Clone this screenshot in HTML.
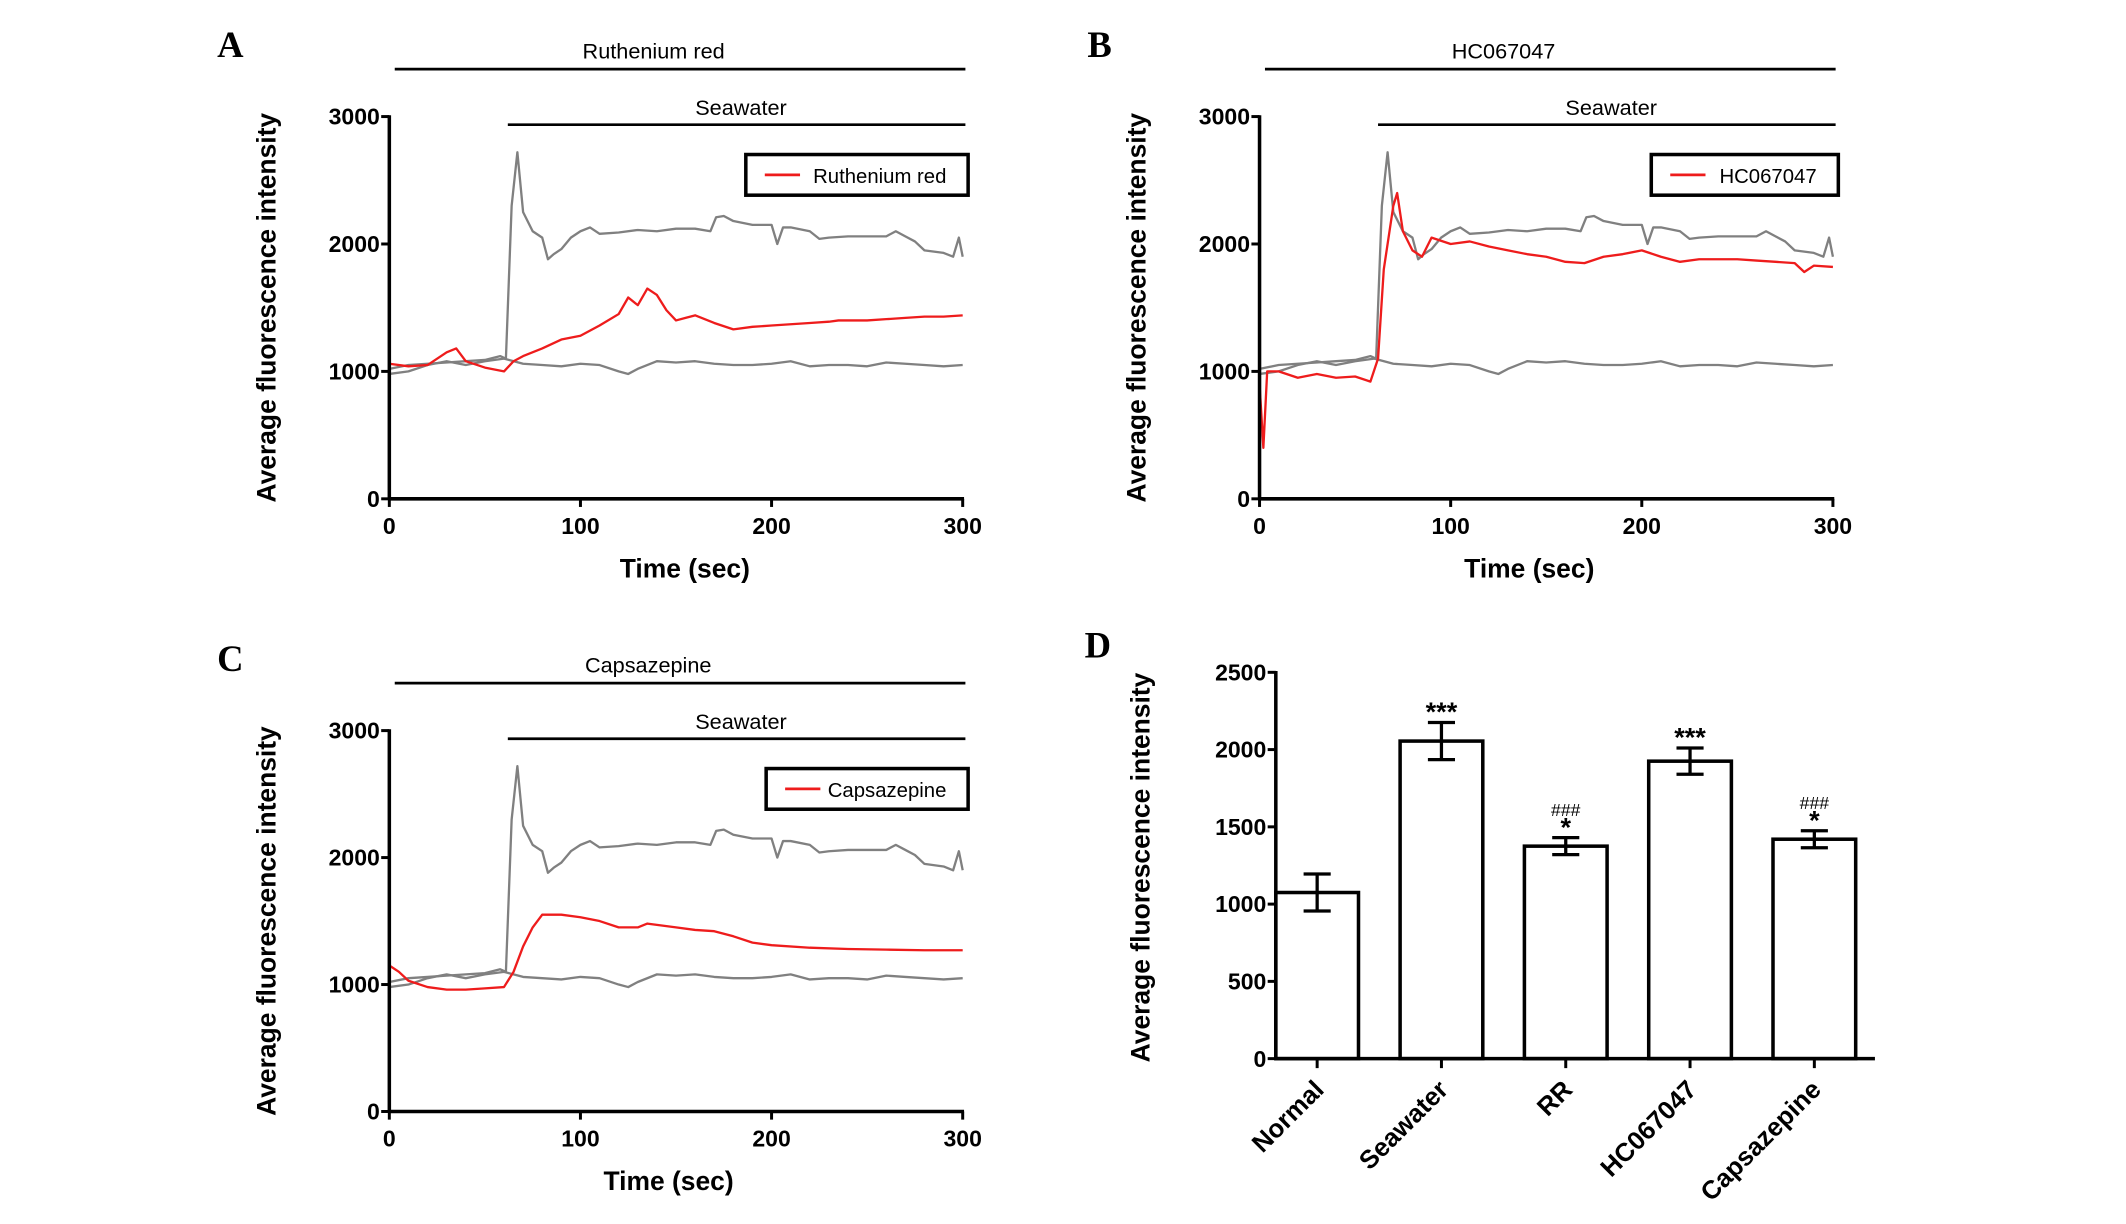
<!DOCTYPE html>
<html><head><meta charset="utf-8"><style>
html,body{margin:0;padding:0;background:#fff;width:2126px;height:1224px;overflow:hidden}
svg{display:block}
text{font-family:"Liberation Sans",Arial,sans-serif}
.tick{font-size:17px;font-weight:bold}
.btick{font-size:19px;font-weight:bold}
.ttl{font-size:19.5px;font-weight:bold}
.lab{font-size:16px}
.let{font-family:"Liberation Serif",serif;font-size:27px;font-weight:bold}
</style></head><body>
<svg id="fig" width="2126" height="1224" viewBox="0 0 1568 903"></svg>
<script>
// ---- data ----
const swT=[0,10,20,30,40,50,58,61,64,67,70,75,80,83,86,90,95,100,105,110,120,130,140,150,160,168,171,175,180,190,200,203,206,210,220,225,230,240,250,260,265,270,275,280,290,295,298,300];
const swV=[1020,1050,1060,1070,1080,1090,1120,1100,2300,2720,2250,2100,2050,1880,1920,1960,2050,2100,2130,2080,2090,2110,2100,2120,2120,2100,2210,2220,2180,2150,2150,2000,2130,2130,2100,2040,2050,2060,2060,2060,2100,2060,2020,1950,1930,1900,2050,1900];
const nT=[0,10,20,30,40,50,60,70,80,90,100,110,120,125,130,140,150,160,170,180,190,200,210,220,230,240,250,260,270,280,290,300];
const nV=[980,1000,1050,1080,1050,1080,1100,1060,1050,1040,1060,1050,1000,980,1020,1080,1070,1080,1060,1050,1050,1060,1080,1040,1050,1050,1040,1070,1060,1050,1040,1050];
const rrT=[0,10,20,30,35,40,50,60,65,70,80,90,100,110,120,125,130,135,140,145,150,155,160,170,180,190,200,210,220,230,235,240,250,260,270,280,290,300];
const rrV=[1060,1040,1050,1150,1180,1080,1030,1000,1080,1120,1180,1250,1280,1360,1450,1580,1520,1650,1600,1480,1400,1420,1440,1380,1330,1350,1360,1370,1380,1390,1400,1400,1400,1410,1420,1430,1430,1440];
const hcT=[0,2,4,10,20,30,40,50,58,62,65,70,72,75,80,85,90,100,110,120,130,140,150,160,170,180,190,200,210,220,230,240,250,260,270,280,285,290,300];
const hcV=[900,400,1000,1000,950,980,950,960,920,1100,1800,2300,2400,2100,1950,1900,2050,2000,2020,1980,1950,1920,1900,1860,1850,1900,1920,1950,1900,1860,1880,1880,1880,1870,1860,1850,1780,1830,1820];
const czT=[0,5,10,20,30,40,50,60,65,70,75,80,90,100,110,120,130,135,140,150,160,170,180,190,200,220,240,260,280,300];
const czV=[1150,1100,1030,980,960,960,970,980,1100,1300,1450,1550,1550,1530,1500,1450,1450,1480,1470,1450,1430,1420,1380,1330,1310,1290,1280,1275,1270,1270];
const xTicks=[0,100,200,300];
const yTicks=[0,1000,2000,3000];
const barCats=["Normal","Seawater","RR","HC067047","Capsazepine"];
const barVals=[1075,2055,1375,1925,1420];
const barErr=[120,120,55,85,55];
const barSig=["","***","*","***","*"];
const barHash=["","","###","","###"];
const barTicks=[0,500,1000,1500,2000,2500];

const svg=document.getElementById('fig');
const NS='http://www.w3.org/2000/svg';
function mk(tag,attrs,parent){const e=document.createElementNS(NS,tag);for(const k in attrs)e.setAttribute(k,attrs[k]);(parent||svg).appendChild(e);return e;}
function txt(s,attrs,parent){const e=mk('text',attrs,parent);e.textContent=s;return e;}

function panel(o){
  const g=mk('g',{});
  
  
  const sx=t=>o.x0+(o.x1-o.x0)*t/300;
  const sy=v=>o.y0-(o.y0-o.y3)*v/3000;
  const l=txt(o.letter,{x:o.x0-127,y:o.y3-44,'class':'let'},g);
  
  let b=mk('line',{x1:o.x0+4,x2:o.x1+2,y1:o.y3-35,y2:o.y3-35,stroke:'#000','stroke-width':2},g);
  
  let bt=txt(o.drug,{x:o.tx,y:o.y3-43,'text-anchor':'middle','class':'lab'},g);
  
  let s=mk('line',{x1:sx(62),x2:o.x1+2,y1:o.y3+6,y2:o.y3+6,stroke:'#000','stroke-width':2},g);
  
  let st=txt('Seawater',{x:sx(184),y:o.y3-1,'text-anchor':'middle','class':'lab'},g);
  
  function line(T,V,col,name){const p=mk('polyline',{points:T.map((t,i)=>sx(t)+','+sy(V[i])).join(' '),fill:'none',stroke:col,'stroke-width':1.7,'stroke-linejoin':'round'},g);
    }
  line(nT,nV,'#808080','normal-series');
  line(swT,swV,'#808080','seawater-series');
  line(o.T,o.V,'#ee1c1c',o.sname);
  mk('line',{x1:o.x0,x2:o.x0,y1:o.y3-1,y2:o.y0+1,stroke:'#000','stroke-width':2.6},g);
  mk('line',{x1:o.x0-1,x2:o.x1+1,y1:o.y0,y2:o.y0,stroke:'#000','stroke-width':2.6},g);
  xTicks.forEach(t=>{mk('line',{x1:sx(t),x2:sx(t),y1:o.y0,y2:o.y0+6,stroke:'#000','stroke-width':2.2},g);
    const e=txt(t,{x:sx(t),y:o.y0+26,'text-anchor':'middle','class':'tick'},g);});
  yTicks.forEach(v=>{mk('line',{x1:o.x0-6,x2:o.x0,y1:sy(v),y2:sy(v),stroke:'#000','stroke-width':2.2},g);
    const e=txt(v,{x:o.x0-7,y:sy(v)+6,'text-anchor':'end','class':'tick'},g);});
  const xt=txt('Time (sec)',{x:o.xtx,y:o.y0+58,'text-anchor':'middle','class':'ttl'},g);
  
  const cy=(o.y0+o.y3)/2;
  const yt=txt('Average fluorescence intensity',{x:o.x0-84,y:cy,'text-anchor':'middle','class':'ttl',transform:`rotate(-90 ${o.x0-84} ${cy})`},g);
  
  const lg=mk('g',{},g);
  mk('rect',{x:o.lx,y:o.y3+28,width:o.x1+4-o.lx,height:30,fill:'#fff',stroke:'#000','stroke-width':2.6},lg);
  mk('line',{x1:o.lx+14,x2:o.lx+40,y1:o.y3+43,y2:o.y3+43,stroke:'#ee1c1c','stroke-width':2},lg);
  txt(o.drug,{x:o.x1-12,y:o.y3+49,'text-anchor':'end','font-size':15},lg);
}
panel({name:'panel-a',letter:'A',drug:'Ruthenium red',x0:287,x1:710,y0:368,y3:86,tx:482,xtx:505,lx:550,T:rrT,V:rrV,sname:'ruthenium-red-series'});
panel({name:'panel-b',letter:'B',drug:'HC067047',x0:929,x1:1352,y0:368,y3:86,tx:1109,xtx:1128,lx:1218,T:hcT,V:hcV,sname:'hc067047-series'});
panel({name:'panel-c',letter:'C',drug:'Capsazepine',x0:287,x1:710,y0:820,y3:539,tx:478,xtx:493,lx:565,T:czT,V:czV,sname:'capsazepine-series'});

(function(){
  const g=mk('g',{});
  const x0=941,x1=1383,y0=781,yT=496;
  const sy=v=>y0-(y0-yT)*v/2500;
  const cx=i=>971.5+i*91.7;
  const bw=61;
  const l=txt('D',{x:x0-141,y:485,'class':'let'},g);
  barCats.forEach((c,i)=>{
    const r=mk('rect',{x:cx(i)-bw/2,y:sy(barVals[i]),width:bw,height:y0-sy(barVals[i]),fill:'#fff',stroke:'#000','stroke-width':2.6},g);
    
    const eb=mk('path',{d:`M${cx(i)-10},${sy(barVals[i]+barErr[i])}H${cx(i)+10}M${cx(i)},${sy(barVals[i]+barErr[i])}V${sy(barVals[i]-barErr[i])}M${cx(i)-10},${sy(barVals[i]-barErr[i])}H${cx(i)+10}`,stroke:'#000','stroke-width':2.4,fill:'none'},g);
    
    const top=sy(barVals[i]+barErr[i]);
    if(barSig[i]){const s=txt(barSig[i],{x:cx(i),y:top-1,'text-anchor':'middle','font-size':20,'font-weight':'bold'},g);}
    if(barHash[i]){const h=txt(barHash[i],{x:cx(i),y:top-16,'text-anchor':'middle','font-size':13,'font-family':'Liberation Serif'},g);}
    mk('line',{x1:cx(i),x2:cx(i),y1:y0,y2:y0+7,stroke:'#000','stroke-width':2.2},g);
    const t=txt(c,{x:cx(i)+6,y:y0+24,'text-anchor':'end','class':'btick',transform:`rotate(-45 ${cx(i)+6} ${y0+24})`},g);
    
  });
  mk('line',{x1:x0,x2:x0,y1:yT-1,y2:y0+1,stroke:'#000','stroke-width':2.6},g);
  mk('line',{x1:x0-1,x2:x1,y1:y0,y2:y0,stroke:'#000','stroke-width':2.6},g);
  barTicks.forEach(v=>{mk('line',{x1:x0-6,x2:x0,y1:sy(v),y2:sy(v),stroke:'#000','stroke-width':2.2},g);
    const e=txt(v,{x:x0-7,y:sy(v)+6,'text-anchor':'end','class':'tick'},g);});
  const cy=640;
  const yt=txt('Average fluorescence intensity',{x:848,y:cy,'text-anchor':'middle','class':'ttl',transform:`rotate(-90 848 ${cy})`},g);
  
})();
</script>
</body></html>
